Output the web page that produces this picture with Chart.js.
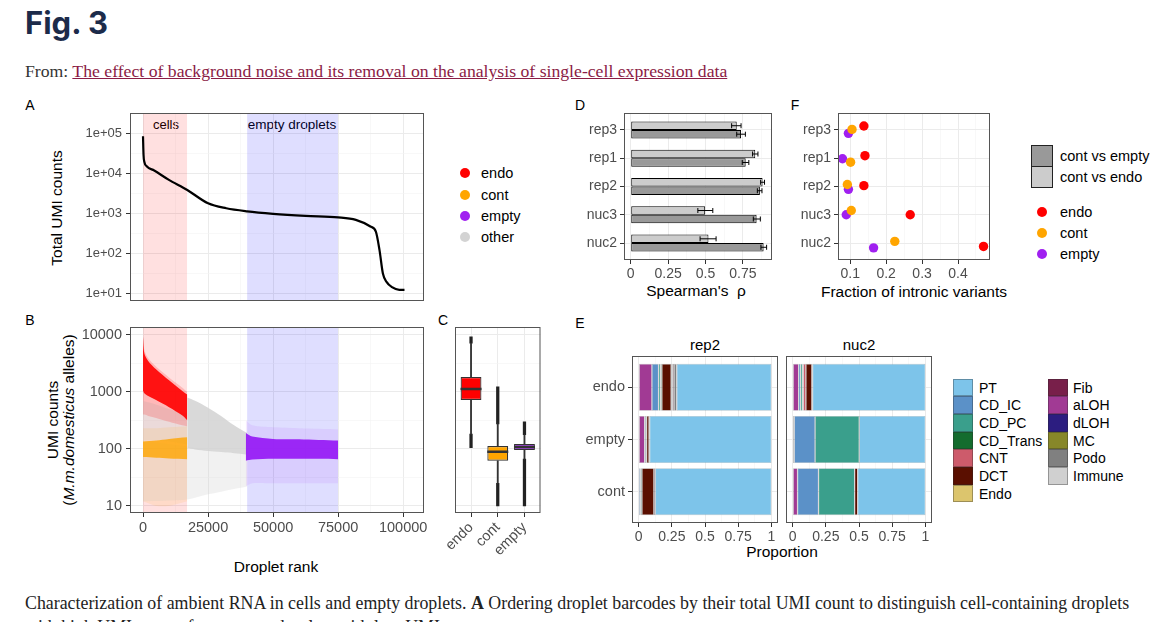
<!DOCTYPE html>
<html lang="en">
<head>
<meta charset="UTF-8"/>
<title>Fig. 3</title>
<style>
    html, body {
        margin: 0;
        padding: 0;
        background: #fff;
        overflow: hidden;
    }
    body {
        position: relative;
        width: 1153px;
        height: 622px;
        font-family: "Liberation Sans", Arial, sans-serif;
        color: #000;
    }
    h1 {
        position: absolute;
        left: 25px;
        top: 7px;
        margin: 0;
        font-family: Inter, "Noto Sans", sans-serif;
        font-weight: 700;
        font-size: 31px;
        line-height: 32px;
        color: #1c2b4a;
    }
    .from {
        position: absolute;
        left: 25px;
        top: 60px;
        font-family: "Liberation Serif", serif;
        font-size: 17.7px;
        line-height: 22px;
        color: #333;
        white-space: nowrap;
    }
    .from a { color: #8b1c45; text-decoration: underline; }
    .caption {
        position: absolute;
        left: 25px;
        top: 591px;
        font-family: "Liberation Serif", serif;
        font-size: 17.85px;
        line-height: 24px;
        color: #222;
        white-space: nowrap;
    }
    .t {
        position: absolute;
        white-space: nowrap;
        transform: translate(-50%, -50%);
    }
    .l {
        position: absolute;
        white-space: nowrap;
        transform: translateY(-50%);
        font-size: 14.5px;
    }
    .rot { transform: translate(-50%, -50%) rotate(-90deg); text-align: center; }
    .letter { font-size: 14px; }
    .title { font-size: 15.5px; }
    .dot { position: absolute; width: 10px; height: 10px; border-radius: 50%; transform: translate(-50%, -50%); }
    .key { position: absolute; box-sizing: border-box; }
    .chartbox { position: absolute; }
</style>
</head>
<body>
<h1>Fig. 3</h1>
<div class="from">From: <a href="#">The effect of background noise and its removal on the analysis of single-cell expression data</a></div>

<!-- panel letters -->
<div class="t letter" style="left:30px;top:105px">A</div>
<div class="t letter" style="left:30px;top:320px">B</div>
<div class="t letter" style="left:443px;top:320px">C</div>
<div class="t letter" style="left:580px;top:105px">D</div>
<div class="t letter" style="left:580px;top:323px">E</div>
<div class="t letter" style="left:795px;top:105px">F</div>

<!-- axis titles -->
<div class="t title rot" style="left:57px;top:208px">Total UMI counts</div>
<div class="t title rot" style="left:61px;top:420px;line-height:16px">UMI counts<br>(<i>M.m.domesticus</i> alleles)</div>
<div class="t title" style="left:276px;top:567px">Droplet rank</div>
<div class="t" style="left:166px;top:124px;font-size:13px">cells</div>
<div class="t" style="left:292px;top:124px;font-size:13.5px">empty droplets</div>
<div class="t title" style="left:696px;top:291px">Spearman's&nbsp; ρ</div>
<div class="t title" style="left:914px;top:292px">Fraction of intronic variants</div>
<div class="t title" style="left:782px;top:552px">Proportion</div>
<div class="t" style="left:705px;top:344px;font-size:15px">rep2</div>
<div class="t" style="left:859px;top:344px;font-size:15px">nuc2</div>

<!-- legend A/B -->
<div class="dot" style="left:465px;top:173px;background:#ff0000"></div>
<div class="dot" style="left:465px;top:195px;background:#ffa500"></div>
<div class="dot" style="left:465px;top:216px;background:#a020f0"></div>
<div class="dot" style="left:465px;top:237px;background:#d3d3d3"></div>
<div class="l" style="left:481px;top:173px">endo</div>
<div class="l" style="left:481px;top:195px">cont</div>
<div class="l" style="left:481px;top:216px">empty</div>
<div class="l" style="left:481px;top:237px">other</div>

<!-- legend D -->
<div class="key" style="left:1031px;top:145px;width:22px;height:22px;background:#999999;border:1.2px solid #222"></div>
<div class="key" style="left:1031px;top:166px;width:22px;height:22px;background:#cccccc;border:1.2px solid #222"></div>
<div class="l" style="left:1060px;top:156px">cont vs empty</div>
<div class="l" style="left:1060px;top:177px">cont vs endo</div>

<!-- legend F -->
<div class="dot" style="left:1042px;top:212px;background:#ff0000"></div>
<div class="dot" style="left:1042px;top:233px;background:#ffa500"></div>
<div class="dot" style="left:1042px;top:254px;background:#a020f0"></div>
<div class="l" style="left:1060px;top:212px">endo</div>
<div class="l" style="left:1060px;top:233px">cont</div>
<div class="l" style="left:1060px;top:254px">empty</div>

<div id="legendE"></div>

<div class="caption">Characterization of ambient RNA in cells and empty droplets. <b>A</b> Ordering droplet barcodes by their total UMI count to distinguish cell-containing droplets<br>with high UMI counts from empty droplets with low UMI counts</div>

<script src="https://cdn.jsdelivr.net/npm/chart.js"></script>
<script>
// ---------- data ----------

// A: total UMI count by droplet rank
const aRank = [0, 200, 500, 1500, 4300, 9800, 17000, 25000, 32000, 40000, 50000, 62500, 75000, 81800, 87400, 89500, 90900, 92200, 93600, 95700, 98500, 100500];
const aUmi  = [87000, 30000, 20000, 15200, 12000, 7100, 3900, 1800, 1350, 1130, 980, 870, 800, 690, 470, 350, 120, 31, 19, 14, 12, 12];

// shaded droplet ranges (A and B)
const cellsRange = [0, 17000];
const emptyRange = [40000, 75000];

// B: envelopes of the point clouds (upper / lower edge)
const grayX = [17000, 20000, 25000, 30000, 35000, 40000];
const grayTop = [800, 700, 530, 380, 260, 190];
const grayBottom = [105, 98, 92, 88, 84, 80];
const grayCellX = [0, 5000, 10000, 17000];
const grayCellTop = [700, 600, 500, 420];
const grayCellBottom = [140, 140, 135, 120];
const grayFaintX = [0, 17000, 25000, 40000];
const grayFaintTop = [140, 110, 95, 82];
const grayFaintBottom = [12, 13, 16, 22];
const redX = [0, 500, 2000, 5000, 10000, 15000, 17000];
const redTop = [9300, 4800, 3500, 2500, 1600, 1050, 900];
const redBottom = [1050, 950, 850, 720, 540, 390, 320];
const redFaintTop = [9500, 5500, 3900, 2800, 1800, 1200, 1000];
const redFaintBottom = [400, 400, 380, 350, 300, 260, 250];
const orangeX = [0, 5000, 10000, 17000];
const orangeTop = [135, 140, 150, 160];
const orangeBottom = [72, 70, 68, 66];
const orangeFaintTop = [230, 230, 240, 250];
const orangeFaintBottom = [12, 10, 10, 12];
const purpleX = [39500, 42000, 50000, 60000, 75000];
const purpleTop = [190, 165, 150, 148, 140];
const purpleBottom = [62, 65, 67, 67, 66];
const purpleFaintTop = [320, 260, 240, 230, 220];
const purpleFaintBottom = [22, 25, 25, 25, 25];

// C: boxplots (endo, cont, empty)
const boxGroups = ['endo', 'cont', 'empty'];
const boxColors = ['#ff0000', '#ffa500', '#a020f0'];
const boxQ1 = [725, 62, 96];
const boxMedian = [1130, 89, 108];
const boxQ3 = [1820, 112, 122];
const whiskLow = [182, 25, 66];
const whiskHigh = [7200, 275, 177];
const outLow = [105, 10, 10];
const outHigh = [9300, 1230, 300];

// D: Spearman's rho (top to bottom: rep3, rep1, rep2, nuc3, nuc2)
const dSamples = ['rep3', 'rep1', 'rep2', 'nuc3', 'nuc2'];
const rhoEndo = [0.709, 0.833, 0.882, 0.498, 0.520];
const rhoEndoLo = [0.675, 0.815, 0.869, 0.449, 0.464];
const rhoEndoHi = [0.738, 0.851, 0.895, 0.549, 0.571];
const rhoEmpty = [0.738, 0.769, 0.864, 0.842, 0.889];
const rhoEmptyLo = [0.709, 0.746, 0.847, 0.820, 0.871];
const rhoEmptyHi = [0.767, 0.790, 0.878, 0.867, 0.909];

// F: fraction of intronic variants, with the vertical jitter seen in the plot
const fEndoX = [0.138, 0.141, 0.138, 0.267, 0.471];
const fEndoY = [5.14, 4.09, 3.03, 2.00, 0.88];
const fContX = [0.105, 0.101, 0.092, 0.103, 0.224];
const fContY = [5.02, 3.86, 3.07, 2.15, 1.06];
const fEmptyX = [0.095, 0.0785, 0.095, 0.089, 0.165];
const fEmptyY = [4.88, 3.98, 2.90, 2.00, 0.83];

// E: cell type proportions, stacked left to right in this order
const cellTypes = ['aLOH', 'CD_IC', 'CD_PC', 'CD_Trans', 'CNT', 'DCT', 'dLOH', 'Endo', 'Fib', 'Immune', 'MC', 'Podo', 'PT'];
const cellColors = ['#a13a94', '#5b91c8', '#3a9f8c', '#146c2e', '#cd5b6b', '#5a0f00', '#2c1d80', '#dcc56d', '#781f4a', '#d0d0d0', '#878729', '#808080', '#7dc4ea'];
const eRows = ['endo', 'empty', 'cont'];
const rep2Endo  = [0.100, 0.050, 0.015, 0.010, 0, 0.070, 0.004, 0.008, 0.010, 0, 0, 0.020, 0.713];
const rep2Empty = [0.045, 0.010, 0.005, 0, 0, 0.018, 0, 0, 0, 0, 0, 0.005, 0.917];
const rep2Cont  = [0, 0.015, 0.010, 0, 0, 0.090, 0, 0, 0.010, 0, 0, 0, 0.875];
const nuc2Endo  = [0.045, 0.015, 0.015, 0.005, 0.020, 0.045, 0, 0, 0.005, 0, 0, 0, 0.850];
const nuc2Empty = [0.012, 0.157, 0.333, 0, 0, 0, 0, 0, 0, 0, 0, 0, 0.498];
const nuc2Cont  = [0.037, 0.158, 0.272, 0, 0, 0.023, 0, 0, 0, 0, 0, 0, 0.510];
const legendCol1 = ['PT', 'CD_IC', 'CD_PC', 'CD_Trans', 'CNT', 'DCT', 'Endo'];
const legendCol2 = ['Fib', 'aLOH', 'dLOH', 'MC', 'Podo', 'Immune'];

// ---------- helpers ----------
Chart.defaults.font.family = '"Liberation Sans", Arial, sans-serif';
Chart.defaults.color = '#4d4d4d';
Chart.defaults.animation = false;
Chart.defaults.events = [];
Chart.defaults.plugins.legend.display = false;
Chart.defaults.plugins.tooltip.enabled = false;

const PAD = {left: 10, top: 14, right: 28, bottom: 14};

// panel border drawn round the plot area, like theme_bw
Chart.register({
    id: 'frame',
    afterDatasetsDraw(chart) {
        const a = chart.chartArea, g = chart.ctx;
        g.save();
        g.strokeStyle = '#555';
        g.lineWidth = 1;
        g.strokeRect(a.left + 0.5, a.top + 0.5, a.right - a.left - 1, a.bottom - a.top - 1);
        g.restore();
    }
});

// error bars for panel D
const errorBars = {
    id: 'errorBars',
    afterDatasetsDraw(chart) {
        const g = chart.ctx, xs = chart.scales.x;
        chart.data.datasets.forEach((ds, i) => {
            if (!ds.errLo) return;
            chart.getDatasetMeta(i).data.forEach((bar, j) => {
                const x1 = xs.getPixelForValue(ds.errLo[j]);
                const x2 = xs.getPixelForValue(ds.errHi[j]);
                const y = bar.y;
                g.save();
                g.strokeStyle = '#000';
                g.lineWidth = 1;
                g.beginPath();
                g.moveTo(x1, y); g.lineTo(x2, y);
                g.moveTo(x1, y - 2.5); g.lineTo(x1, y + 2.5);
                g.moveTo(x2, y - 2.5); g.lineTo(x2, y + 2.5);
                g.stroke();
                g.restore();
            });
        });
    }
};

function mount(box, yW, xH) {
    const d = document.createElement('div');
    d.className = 'chartbox';
    d.style.left = (box[0] - yW - PAD.left) + 'px';
    d.style.top = (box[1] - PAD.top) + 'px';
    d.style.width = (box[2] - box[0] + yW + PAD.left + PAD.right) + 'px';
    d.style.height = (box[3] - box[1] + PAD.top + PAD.bottom + xH) + 'px';
    const c = document.createElement('canvas');
    d.appendChild(c);
    document.body.appendChild(d);
    return c;
}

// axis with hand-picked major (labelled) and minor ticks
function axis(o) {
    const majors = o.majors, all = majors.concat(o.minors || []).sort((a, b) => a - b);
    return {
        type: o.type || 'linear',
        position: o.position,
        min: o.min,
        max: o.max,
        offset: false,
        stacked: o.stacked || false,
        afterBuildTicks: s => { s.ticks = all.map(v => ({value: v})); },
        afterFit: s => {
            if (o.position === 'left') s.width = o.size; else s.height = o.size;
        },
        border: {display: false},
        grid: {
            offset: false,
            color: c => majors.includes(c.tick.value) ? '#ebebeb' : '#f4f4f4',
            lineWidth: c => majors.includes(c.tick.value) ? 1 : 0.6,
            tickColor: c => majors.includes(c.tick.value) ? '#333' : 'rgba(0,0,0,0)',
            tickLength: 4,
            drawTicks: o.ticks !== false
        },
        ticks: {
            display: o.labels !== undefined,
            autoSkip: false,
            padding: o.pad === undefined ? 3 : o.pad,
            color: '#4d4d4d',
            font: {size: o.font || 14},
            minRotation: o.rotate || 0,
            maxRotation: o.rotate || 0,
            callback: v => {
                const i = majors.indexOf(v);
                return i >= 0 && o.labels ? o.labels[i] : '';
            }
        }
    };
}

function pts(xs, ys) { return xs.map((x, i) => ({x: x, y: ys[i]})); }

function band(xs, top, bottom, color, order) {
    return [
        {type: 'line', data: pts(xs, top), fill: '+1', backgroundColor: color, borderWidth: 0, pointRadius: 0, tension: 0.3, order: order},
        {type: 'line', data: pts(xs, bottom), fill: false, borderWidth: 0, pointRadius: 0, tension: 0.3, order: order}
    ];
}

function region(range, color, order) {
    return {type: 'line', data: [{x: range[0], y: 1e7}, {x: range[1], y: 1e7}], fill: 'start',
        backgroundColor: color, borderWidth: 0, pointRadius: 0, order: order};
}

const rankMajors = [0, 25000, 50000, 75000, 100000];
const rankMinors = [12500, 37500, 62500, 87500];
const pink = 'rgba(255,0,0,0.12)';
const lavender = 'rgba(30,20,255,0.14)';

// ---------- A ----------
new Chart(mount([130, 113, 424, 301], 60, 0), {
    type: 'line',
    data: {datasets: [
        {data: pts(aRank, aUmi), borderColor: '#000', borderWidth: 2.2, pointRadius: 0, fill: false,
         cubicInterpolationMode: 'monotone', order: 0},
        region(cellsRange, pink, 5),
        region(emptyRange, lavender, 5)
    ]},
    options: {
        responsive: true, maintainAspectRatio: false,
        layout: {padding: PAD},
        scales: {
            x: axis({position: 'bottom', min: -5000, max: 108000, majors: rankMajors, minors: rankMinors, size: 0, ticks: false}),
            y: axis({type: 'logarithmic', position: 'left', min: 6.3, max: 335000,
                majors: [10, 100, 1000, 10000, 100000], minors: [31.62, 316.2, 3162, 31623, 316228],
                labels: ['1e+01', '1e+02', '1e+03', '1e+04', '1e+05'], size: 60, font: 13, pad: 4})
        }
    }
});

// ---------- B ----------
new Chart(mount([130, 327, 424, 513], 60, 44), {
    type: 'line',
    data: {datasets: [].concat(
        band(purpleX, purpleTop, purpleBottom, 'rgba(150,25,245,0.92)', 1),
        band(purpleX, purpleFaintTop, purpleFaintBottom, 'rgba(160,32,240,0.09)', 2),
        band(redX, redTop, redBottom, 'rgba(255,0,0,0.9)', 3),
        band(redX, redFaintTop, redFaintBottom, 'rgba(255,0,0,0.18)', 4),
        band(orangeX, orangeTop, orangeBottom, 'rgba(255,165,0,0.8)', 5),
        band(orangeX, orangeFaintTop, orangeFaintBottom, 'rgba(255,165,0,0.11)', 6),
        band(grayX, grayTop, grayBottom, 'rgba(210,210,210,0.85)', 7),
        band(grayCellX, grayCellTop, grayCellBottom, 'rgba(210,210,210,0.45)', 7),
        band(grayFaintX, grayFaintTop, grayFaintBottom, 'rgba(210,210,210,0.3)', 8),
        [region(cellsRange, pink, 9), region(emptyRange, lavender, 9)]
    )},
    options: {
        responsive: true, maintainAspectRatio: false,
        layout: {padding: PAD},
        scales: {
            x: axis({position: 'bottom', min: -5000, max: 108000, majors: rankMajors, minors: rankMinors,
                labels: ['0', '25000', '50000', '75000', '100000'], size: 44, font: 14.5, pad: 2}),
            y: axis({type: 'logarithmic', position: 'left', min: 7.5, max: 13800,
                majors: [10, 100, 1000, 10000], minors: [31.62, 316.2, 3162],
                labels: ['10', '100', '1000', '10000'], size: 60, font: 14.5, pad: 4})
        }
    }
});

// ---------- C ----------
const boxPos = [1, 2, 3];
new Chart(mount([451.5, 327, 540, 513], 0, 60), {
    type: 'bar',
    data: {datasets: [
        {type: 'line', data: pts(boxPos, boxMedian), showLine: false, pointStyle: 'line', pointRadius: 10.5,
         pointBorderWidth: 2.5, pointBorderColor: '#333', order: 0},
        {data: boxPos.map((p, i) => ({x: p, y: [boxQ1[i], boxQ3[i]]})), backgroundColor: boxColors,
         borderColor: '#333', borderWidth: 1.2, borderSkipped: false, grouped: false,
         barPercentage: 0.78, categoryPercentage: 1, order: 1},
        {data: boxPos.map((p, i) => ({x: p, y: [whiskLow[i], boxQ1[i]]})), backgroundColor: '#333',
         barThickness: 1.2, grouped: false, order: 2},
        {data: boxPos.map((p, i) => ({x: p, y: [boxQ3[i], whiskHigh[i]]})), backgroundColor: '#333',
         barThickness: 1.2, grouped: false, order: 2},
        {data: boxPos.map((p, i) => ({x: p, y: [outLow[i], whiskLow[i]]})), backgroundColor: '#222',
         barThickness: 2.6, grouped: false, order: 3},
        {data: boxPos.map((p, i) => ({x: p, y: [whiskHigh[i], outHigh[i]]})), backgroundColor: '#222',
         barThickness: 2.6, grouped: false, order: 3}
    ]},
    options: {
        responsive: true, maintainAspectRatio: false,
        layout: {padding: PAD},
        scales: {
            x: axis({position: 'bottom', min: 0.4, max: 3.6, majors: boxPos, labels: boxGroups,
                size: 60, font: 14.5, rotate: 45, pad: 2}),
            y: axis({type: 'logarithmic', position: 'left', min: 7.5, max: 13800,
                majors: [10, 100, 1000, 10000], minors: [31.62, 316.2, 3162], size: 0, ticks: false})
        }
    }
});

// ---------- D ----------
const dPos = [5, 4, 3, 2, 1];
new Chart(mount([624, 113, 772, 260], 50, 26), {
    type: 'bar',
    data: {datasets: [
        {data: pts(rhoEndo, dPos), errLo: rhoEndoLo, errHi: rhoEndoHi, backgroundColor: '#cccccc',
         borderColor: '#000', borderWidth: 1, borderSkipped: false, barPercentage: 1, categoryPercentage: 0.6},
        {data: pts(rhoEmpty, dPos), errLo: rhoEmptyLo, errHi: rhoEmptyHi, backgroundColor: '#999999',
         borderColor: '#000', borderWidth: 1, borderSkipped: false, barPercentage: 1, categoryPercentage: 0.6}
    ]},
    options: {
        indexAxis: 'y',
        responsive: true, maintainAspectRatio: false,
        layout: {padding: PAD},
        scales: {
            x: axis({position: 'bottom', min: -0.045, max: 0.945, majors: [0, 0.25, 0.5, 0.75],
                minors: [0.125, 0.375, 0.625, 0.875], labels: ['0', '0.25', '0.5', '0.75'], size: 26, pad: 2}),
            y: axis({position: 'left', min: 0.4, max: 5.6, majors: [1, 2, 3, 4, 5],
                labels: ['nuc2', 'nuc3', 'rep2', 'rep1', 'rep3'], size: 50})
        }
    },
    plugins: [errorBars]
});

// ---------- F ----------
new Chart(mount([838, 113, 990, 260], 50, 26), {
    type: 'scatter',
    data: {datasets: [
        {data: pts(fEndoX, fEndoY), backgroundColor: '#ff0000', pointRadius: 4.7, borderWidth: 0},
        {data: pts(fContX, fContY), backgroundColor: '#ffa500', pointRadius: 4.7, borderWidth: 0},
        {data: pts(fEmptyX, fEmptyY), backgroundColor: '#a020f0', pointRadius: 4.7, borderWidth: 0}
    ]},
    options: {
        responsive: true, maintainAspectRatio: false,
        layout: {padding: PAD},
        scales: {
            x: axis({position: 'bottom', min: 0.066, max: 0.489, majors: [0.1, 0.2, 0.3, 0.4],
                minors: [0.15, 0.25, 0.35, 0.45], labels: ['0.1', '0.2', '0.3', '0.4'], size: 26, pad: 2}),
            y: axis({position: 'left', min: 0.4, max: 5.6, majors: [1, 2, 3, 4, 5],
                labels: ['nuc2', 'nuc3', 'rep2', 'rep1', 'rep3'], size: 50})
        }
    }
});

// ---------- E ----------
const ePos = [3, 2, 1];
function facet(box, rows, showY) {
    const datasets = cellTypes.map((name, k) => ({
        label: name,
        data: rows.map((r, i) => ({x: r[k], y: ePos[i]})).filter(p => p.x > 0),
        backgroundColor: cellColors[k],
        borderColor: 'rgba(40,40,40,0.35)',
        borderWidth: 0.6,
        borderSkipped: false,
        barPercentage: 0.9,
        categoryPercentage: 1
    }));
    new Chart(mount(box, showY ? 56 : 0, 26), {
        type: 'bar',
        data: {datasets: datasets},
        options: {
            indexAxis: 'y',
            responsive: true, maintainAspectRatio: false,
            layout: {padding: PAD},
            scales: {
                x: axis({position: 'bottom', min: -0.05, max: 1.05, majors: [0, 0.25, 0.5, 0.75, 1],
                    minors: [0.125, 0.375, 0.625, 0.875], labels: ['0', '0.25', '0.5', '0.75', '1'],
                    size: 26, stacked: true, pad: 2}),
                y: axis({position: 'left', min: 0.4, max: 3.6, majors: [1, 2, 3],
                    labels: showY ? ['cont', 'empty', 'endo'] : undefined, ticks: showY,
                    size: showY ? 56 : 0, stacked: true, font: 14.5})
            }
        }
    });
}
facet([632, 356, 778, 523], [rep2Endo, rep2Empty, rep2Cont], true);
facet([786, 356, 932, 523], [nuc2Endo, nuc2Empty, nuc2Cont], false);

// legend for E: two columns of keys
const legE = document.getElementById('legendE');
[[legendCol1, 953, 979], [legendCol2, 1048, 1073]].forEach(([names, kx, tx]) => {
    names.forEach((name, i) => {
        const top = 378.5 + i * 17.7;
        const k = document.createElement('div');
        k.className = 'key';
        k.style.cssText = `left:${kx}px;top:${top}px;width:20px;height:17.7px;` +
            `background:${cellColors[cellTypes.indexOf(name)]};border:0.6px solid rgba(40,40,40,0.35)`;
        const t = document.createElement('div');
        t.className = 'l';
        t.style.cssText = `left:${tx}px;top:${top + 9}px;font-size:14px`;
        t.textContent = name;
        legE.appendChild(k);
        legE.appendChild(t);
    });
});
</script>
</body>
</html>
